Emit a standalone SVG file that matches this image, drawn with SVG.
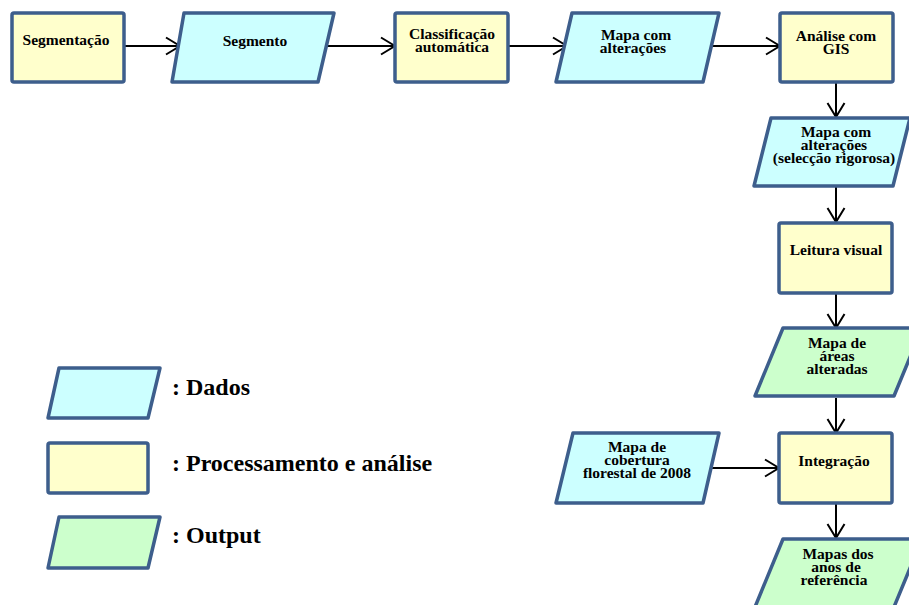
<svg xmlns="http://www.w3.org/2000/svg" width="909" height="605" viewBox="0 0 909 605">
  <defs>
    <marker id="arrow" viewBox="0 0 16 20" refX="15" refY="10" markerWidth="16" markerHeight="20" markerUnits="userSpaceOnUse" orient="auto">
      <path d="M1,1.5 L15,10 L1,18.5" fill="none" stroke="#000" stroke-width="2"/>
    </marker>
    <style>
      .proc { fill: #ffffcc; stroke: #3d5e8c; stroke-width: 3.5; stroke-linejoin: round; }
      .data { fill: #ccffff; stroke: #3d5e8c; stroke-width: 3.5; stroke-linejoin: round; }
      .out { fill: #ccffcc; stroke: #3d5e8c; stroke-width: 3.5; stroke-linejoin: round; }
      .lbl { font-family: "Liberation Serif", "Times New Roman", serif; font-weight: bold; font-size: 15.5px; fill: #000; text-anchor: middle; }
      .leg { font-family: "Liberation Serif", "Times New Roman", serif; font-weight: bold; font-size: 24px; fill: #000; }
      .edge { stroke: #000; stroke-width: 2; fill: none; marker-end: url(#arrow); }
    </style>
  </defs>

  <!-- flow connectors -->
  <g id="connectors">
    <line class="edge" x1="124" y1="46" x2="180" y2="46"/>
    <line class="edge" x1="326" y1="46" x2="395" y2="46"/>
    <line class="edge" x1="508" y1="46" x2="567" y2="46"/>
    <line class="edge" x1="710" y1="46" x2="780" y2="46"/>
    <line class="edge" x1="836" y1="82" x2="836" y2="117"/>
    <line class="edge" x1="836" y1="187" x2="836" y2="222"/>
    <line class="edge" x1="836" y1="293" x2="836" y2="328"/>
    <line class="edge" x1="836" y1="398" x2="836" y2="433"/>
    <line class="edge" x1="710" y1="468" x2="779" y2="468"/>
    <line class="edge" x1="836" y1="503" x2="836" y2="538"/>
  </g>

  <g id="segmentacao">
    <rect class="proc" x="12" y="13" width="112" height="69" rx="2"/>
    <text class="lbl" x="66" y="45">Segmentação</text>
  </g>

  <g id="segmento">
    <polygon class="data" points="184,13 334,13 318,82 172,82"/>
    <text class="lbl" x="255" y="46">Segmento</text>
  </g>

  <g id="classificacao">
    <rect class="proc" x="395" y="13" width="113" height="69" rx="2"/>
    <text class="lbl" x="452" y="39">Classificação</text>
    <text class="lbl" x="452" y="52">automática</text>
  </g>

  <g id="mapa-alteracoes">
    <polygon class="data" points="572,13 719,13 703,82 556,82"/>
    <text class="lbl" x="636" y="40">Mapa com</text>
    <text class="lbl" x="633" y="53">alterações</text>
  </g>

  <g id="analise-gis">
    <rect class="proc" x="780" y="13" width="113" height="69" rx="2"/>
    <text class="lbl" x="836" y="41">Análise com</text>
    <text class="lbl" x="836" y="54">GIS</text>
  </g>

  <g id="mapa-seleccao">
    <polygon class="data" points="771,118 910,118 893,186 754,186"/>
    <text class="lbl" x="836" y="137">Mapa com</text>
    <text class="lbl" x="834" y="150">alterações</text>
    <text class="lbl" x="834" y="163">(selecção rigorosa)</text>
  </g>

  <g id="leitura-visual">
    <rect class="proc" x="779" y="223" width="113" height="70" rx="2"/>
    <text class="lbl" x="836" y="255">Leitura visual</text>
  </g>

  <g id="areas-alteradas">
    <polygon class="out" points="783,328 922,328 894,396 755,396"/>
    <text class="lbl" x="837" y="348">Mapa de</text>
    <text class="lbl" x="837" y="361">áreas</text>
    <text class="lbl" x="837" y="374">alteradas</text>
  </g>

  <g id="cobertura-2008">
    <polygon class="data" points="573,433 719,433 703,503 556,503"/>
    <text class="lbl" x="637" y="452">Mapa de</text>
    <text class="lbl" x="637" y="465">cobertura</text>
    <text class="lbl" x="637" y="478">florestal de 2008</text>
  </g>

  <g id="integracao">
    <rect class="proc" x="779" y="433" width="113" height="70" rx="2"/>
    <text class="lbl" x="834" y="466">Integração</text>
  </g>

  <g id="mapas-referencia">
    <polygon class="out" points="783,539 922,539 894,607 755,607"/>
    <text class="lbl" x="838" y="559">Mapas dos</text>
    <text class="lbl" x="836" y="572">anos de</text>
    <text class="lbl" x="834" y="585">referência</text>
  </g>

  <!-- legend -->
  <g id="legend-dados">
    <polygon class="data" points="59,368 160,368 148,418 48,418"/>
    <text class="leg" x="172" y="395">: Dados</text>
  </g>
  <g id="legend-processamento">
    <rect class="proc" x="48" y="443" width="100" height="50" rx="2"/>
    <text class="leg" x="172" y="471">: Processamento e análise</text>
  </g>
  <g id="legend-output">
    <polygon class="out" points="59,517 160,517 148,568 48,568"/>
    <text class="leg" x="172" y="543">: Output</text>
  </g>
</svg>
